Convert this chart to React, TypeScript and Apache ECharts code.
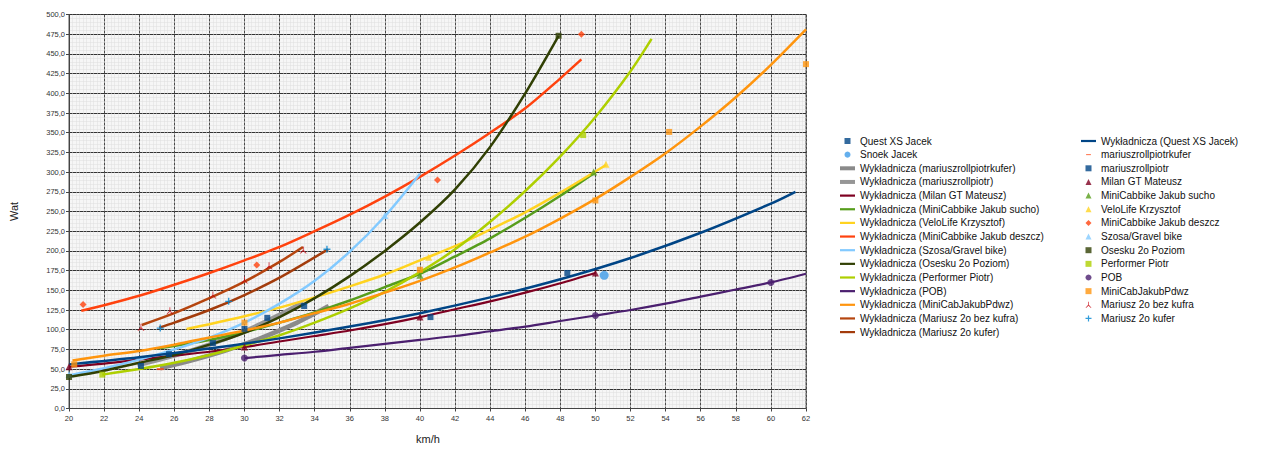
import React, { useEffect, useRef } from "react";
import * as echarts from "echarts";

const FONT = "'Liberation Sans', Arial, sans-serif";

// ---- trend lines (Wykładnicza): [km/h, W]
const trendQuest = [[20,56],[24,65],[28,76],[32,89],[36,104],[40,121],[44,141],[48,164],[52,191],[56,223],[60,260],[61.4,275]];
const trendRollKufer = [[25.2,51],[27,61],[29,74],[31,90],[33,109],[34.8,130]];
const trendRoll = [[23.9,55],[26,67],[28,81],[30,98],[32,119],[33.35,135]];
const trendMilan = [[20,53],[22,57],[24,62],[26,67],[28,72],[30,78],[32,85],[34,92],[36,99],[38,107],[40,116],[42,126],[44,136],[46,147],[48,159],[50,172]];
const trendSucho = [[25,76],[28,87],[30,97],[32,109],[34,122],[36,137],[38,154],[40,171],[42,193],[44,216],[46,242],[48,270],[50,300]];
const trendVelo = [[26.7,101],[28,107],[30,117],[32,128],[34,141],[36,155],[38,170],[40,188],[42,206],[44,227],[46,249],[48,274],[50.6,309]];
const trendDeszcz = [[20.7,124],[22,131],[24,143],[26,157],[28,172],[30,188],[32,205],[34,225],[36,246],[38,269],[40,294],[42,321],[44,350],[46,381],[48,419],[49.2,443]];
const trendSzosa = [[20,42],[22,51],[24,62],[26,75],[28,90],[30,109],[32,133],[34,162],[36,199],[38,244],[40,298]];
const trendOsesku = [[20,40],[22,48],[24,58],[26,68],[28,81],[30,96],[32,116],[34,140],[36,168],[38,200],[40,236],[42,278],[44,332],[46,400],[47.9,473]];
const trendPerformer = [[21.9,43],[24,50],[26,58],[28,68],[30,80],[32,93],[34,109],[36,127],[38,148],[40,173],[42,202],[44,237],[46,276],[48,320],[50,370],[52,428],[53.2,469]];
const trendPOB = [[30,64],[32,68],[34,72],[36,77],[38,82],[40,87],[42,92],[44,98],[46,104],[48,111],[50,118],[52,125],[54,133],[56,142],[58,151],[60,160],[62,171]];
const trendPdwz = [[20.2,61],[22,67],[24,73],[26,81],[28,90],[30,99],[32,109],[34,121],[36,133],[38,147],[40,162],[42,179],[44,198],[46,218],[48,241],[50,266],[52,294],[54,324],[56,358],[58,395],[60,436],[62,481]];
const trendBezKufra = [[24.15,106],[26,121],[28,140],[30,161],[32,186],[33.33,205]];
const trendKufer = [[25.14,102.5],[26,109],[28,125],[30,144],[32,166],[34.76,202]];

// ---- measured points
const ptsQuest = [[40.6,116],[48.4,172]];
const ptsSnoek = [[50.5,169]];
const ptsRollKufer = [[25.2,50]];
const ptsRoll = [[24.1,54],[25.7,69],[28.2,83],[30,101],[31.3,115],[33.4,130]];
const ptsMilan = [[20,53],[30,78],[40,116],[50,172]];
const ptsSucho = [[40,169],[49.9,300]];
const ptsVelo = [[40.5,192],[50.6,310]];
const ptsDeszcz = [[20.8,132],[30.7,182],[41,290],[49.2,475]];
const ptsSzosa = [[20,43],[38,245]];
const ptsOsesku = [[20,40],[47.9,473]];
const ptsPerformer = [[21.9,43],[49.3,347]];
const ptsPOB = [[30,64],[50,118],[60,160]];
const ptsPdwz = [[20.3,56],[30,109],[40,176],[50,264],[54.2,351],[62,437]];
const ptsBezKufra = [[24.1,103],[25.75,124],[28.2,144],[30,163],[31.4,181],[33.35,201]];
const ptsKufer = [[25.2,102],[29.1,136],[34.7,202]];

const X_MIN = 20, X_MAX = 62, X_STEP = 2;
const Y_MIN = 0, Y_MAX = 500, Y_STEP = 25;

const SQUARE = "path://M0,0H10V10H0Z";
const TRI = "path://M5,0L10,10H0Z";
const DIAMOND = "path://M5,0L10,5L5,10L0,5Z";
const DASH = "path://M0,0H10V3H0Z";
const DASH_ICON = "path://M0,0M10,10M1,4.2H9V5.8H1Z";
const PLUS = "path://M4,0H6V4H10V6H6V10H4V6H0V4H4Z";
const LAMBDA = "path://M4.4,0H5.6V5L10,10H8.5L5,6.5L1.5,10H0L4.4,5Z";
const ICON_THIN = "path://M0,0H30V4.4H0Z";
const ICON_THICK = "path://M0,0H30V8H0Z";

type Trend = { name: string; data: number[][]; color: string; width: number };
type Pts = { name: string; data: number[][]; color: string; symbol: string; size: number | number[]; icon: string };

const trends: Trend[] = [
  { name: "Wykładnicza (mariuszrollpiotrkufer)", data: trendRollKufer, color: "#8a8a8a", width: 4.5 },
  { name: "Wykładnicza (mariuszrollpiotr)", data: trendRoll, color: "#969696", width: 4.5 },
  { name: "Wykładnicza (Milan GT Mateusz)", data: trendMilan, color: "#7e0021", width: 2.2 },
  { name: "Wykładnicza (MiniCabbike Jakub sucho)", data: trendSucho, color: "#579d1c", width: 2.5 },
  { name: "Wykładnicza (VeloLife Krzysztof)", data: trendVelo, color: "#ffd320", width: 2.5 },
  { name: "Wykładnicza (MiniCabbike Jakub deszcz)", data: trendDeszcz, color: "#ff420e", width: 2.5 },
  { name: "Wykładnicza (Szosa/Gravel bike)", data: trendSzosa, color: "#83caff", width: 2.5 },
  { name: "Wykładnicza (Osesku 2o Poziom)", data: trendOsesku, color: "#314004", width: 2.5 },
  { name: "Wykładnicza (Performer Piotr)", data: trendPerformer, color: "#aecf00", width: 2.5 },
  { name: "Wykładnicza (POB)", data: trendPOB, color: "#4b1f6f", width: 2.2 },
  { name: "Wykładnicza (MiniCabJakubPdwz)", data: trendPdwz, color: "#ff950e", width: 2.5 },
  { name: "Wykładnicza (Mariusz 2o bez kufra)", data: trendBezKufra, color: "#b5450f", width: 2.5 },
  { name: "Wykładnicza (Mariusz 2o kufer)", data: trendKufer, color: "#a33c0c", width: 2.5 },
  { name: "Wykładnicza (Quest XS Jacek)", data: trendQuest, color: "#004586", width: 2.5 },
];

const points: Pts[] = [
  { name: "Quest XS Jacek", data: ptsQuest, color: "#004586", symbol: "rect", size: 6, icon: SQUARE },
  { name: "Snoek Jacek", data: ptsSnoek, color: "#3d9be9", symbol: "circle", size: 9, icon: "circle" },
  { name: "mariuszrollpiotrkufer", data: ptsRollKufer, color: "#ff420e", symbol: DASH, size: [7, 2], icon: DASH_ICON },
  { name: "mariuszrollpiotr", data: ptsRoll, color: "#004586", symbol: "rect", size: 6, icon: SQUARE },
  { name: "Milan GT Mateusz", data: ptsMilan, color: "#7e0021", symbol: "triangle", size: 7, icon: TRI },
  { name: "MiniCabbike Jakub sucho", data: ptsSucho, color: "#579d1c", symbol: "triangle", size: 7, icon: TRI },
  { name: "VeloLife Krzysztof", data: ptsVelo, color: "#ffd320", symbol: "triangle", size: 7, icon: TRI },
  { name: "MiniCabbike Jakub deszcz", data: ptsDeszcz, color: "#ff420e", symbol: "diamond", size: 7, icon: DIAMOND },
  { name: "Szosa/Gravel bike", data: ptsSzosa, color: "#83caff", symbol: "triangle", size: 7, icon: TRI },
  { name: "Osesku 2o Poziom", data: ptsOsesku, color: "#314004", symbol: "rect", size: 6, icon: SQUARE },
  { name: "Performer Piotr", data: ptsPerformer, color: "#aecf00", symbol: "rect", size: 6, icon: SQUARE },
  { name: "POB", data: ptsPOB, color: "#4b1f6f", symbol: "circle", size: 7, icon: "circle" },
  { name: "MiniCabJakubPdwz", data: ptsPdwz, color: "#ff950e", symbol: "rect", size: 6, icon: SQUARE },
  { name: "Mariusz 2o bez kufra", data: ptsBezKufra, color: "#c5000b", symbol: LAMBDA, size: 7, icon: LAMBDA },
  { name: "Mariusz 2o kufer", data: ptsKufer, color: "#0084d1", symbol: PLUS, size: 7, icon: PLUS },
];

const legendLeft = [
  "Quest XS Jacek",
  "Snoek Jacek",
  "Wykładnicza (mariuszrollpiotrkufer)",
  "Wykładnicza (mariuszrollpiotr)",
  "Wykładnicza (Milan GT Mateusz)",
  "Wykładnicza (MiniCabbike Jakub sucho)",
  "Wykładnicza (VeloLife Krzysztof)",
  "Wykładnicza (MiniCabbike Jakub deszcz)",
  "Wykładnicza (Szosa/Gravel bike)",
  "Wykładnicza (Osesku 2o Poziom)",
  "Wykładnicza (Performer Piotr)",
  "Wykładnicza (POB)",
  "Wykładnicza (MiniCabJakubPdwz)",
  "Wykładnicza (Mariusz 2o bez kufra)",
  "Wykładnicza (Mariusz 2o kufer)",
];
const legendRight = [
  "Wykładnicza (Quest XS Jacek)",
  "mariuszrollpiotrkufer",
  "mariuszrollpiotr",
  "Milan GT Mateusz",
  "MiniCabbike Jakub sucho",
  "VeloLife Krzysztof",
  "MiniCabbike Jakub deszcz",
  "Szosa/Gravel bike",
  "Osesku 2o Poziom",
  "Performer Piotr",
  "POB",
  "MiniCabJakubPdwz",
  "Mariusz 2o bez kufra",
  "Mariusz 2o kufer",
];

function legendItems(names: string[]) {
  return names.map((n) => {
    const t = trends.find((tr) => tr.name === n);
    if (t) return { name: n, icon: t.width > 4 ? ICON_THICK : ICON_THIN };
    const p = points.find((pt) => pt.name === n);
    return { name: n, icon: p ? p.icon : "circle" };
  });
}

export default function App() {
  const ref = useRef<HTMLDivElement>(null);
  useEffect(() => {
    if (!ref.current) return;
    const chart = echarts.init(ref.current, undefined, { renderer: "svg" });
    const legendBase = {
      orient: "vertical" as const,
      top: 136,
      padding: 0,
      itemWidth: 15,
      itemHeight: 6,
      itemGap: 3.65,
      selectedMode: false,
      symbolKeepAspect: true,
      textStyle: { fontFamily: FONT, fontSize: 10, color: "#111", lineHeight: 10 },
    };
    const series: any[] = [];
    trends.forEach((t) => {
      series.push({
        type: "line",
        name: t.name,
        data: t.data,
        smooth: 0.3,
        symbol: "none",
        color: t.color,
        lineStyle: { color: t.color, width: t.width },
        z: 3,
      });
    });
    points.forEach((p) => {
      series.push({
        type: "scatter",
        name: p.name,
        data: p.data,
        symbol: p.symbol,
        symbolSize: p.size,
        color: p.color,
        itemStyle: { color: p.color },
        z: 5,
      });
    });
    chart.setOption({
      animation: false,
      backgroundColor: "#ffffff",
      grid: {
        left: 69,
        right: 474,
        top: 14.5,
        bottom: 43.5,
        show: true,
        backgroundColor: "#f6f6f6",
        borderColor: "#555",
        borderWidth: 1,
      },
      legend: [
        { ...legendBase, left: 840, data: legendItems(legendLeft) },
        { ...legendBase, left: 1081, data: legendItems(legendRight) },
      ],
      xAxis: {
        type: "value",
        min: X_MIN,
        max: X_MAX,
        interval: X_STEP,
        name: "km/h",
        nameLocation: "middle",
        nameGap: 25,
        nameTextStyle: { fontFamily: FONT, fontSize: 11, color: "#222", padding: [0, 19, 0, 0] },
        axisLine: { show: true, lineStyle: { color: "#444", width: 1 } },
        axisTick: { show: true, length: 3, lineStyle: { color: "#444" } },
        axisLabel: { fontFamily: FONT, fontSize: 7.5, color: "#333", margin: 6 },
        splitLine: { show: true, lineStyle: { color: "#4a4a4a", width: 1, type: [3, 1] } },
        minorTick: { show: false, splitNumber: 10 },
        minorSplitLine: { show: true, lineStyle: { color: "#dedede", width: 0.5 } },
      },
      yAxis: {
        type: "value",
        min: Y_MIN,
        max: Y_MAX,
        interval: Y_STEP,
        name: "Wat",
        nameLocation: "middle",
        nameGap: 50,
        nameRotate: 90,
        nameTextStyle: { fontFamily: FONT, fontSize: 11, color: "#222" },
        axisLine: { show: true, lineStyle: { color: "#444", width: 1 } },
        axisTick: { show: true, length: 3, lineStyle: { color: "#444" } },
        axisLabel: {
          fontFamily: FONT,
          fontSize: 7.5,
          color: "#333",
          margin: 4,
          formatter: (v: number) => v.toFixed(1).replace(".", ","),
        },
        splitLine: { show: true, lineStyle: { color: "#333", width: 1.2 } },
        minorTick: { show: false, splitNumber: 5 },
        minorSplitLine: { show: true, lineStyle: { color: "#dedede", width: 0.5 } },
      },
      series,
    });
    return () => chart.dispose();
  }, []);
  return (
    <div
      ref={ref}
      style={{ position: "absolute", left: 0, top: 0, width: 1280, height: 452 }}
    />
  );
}
